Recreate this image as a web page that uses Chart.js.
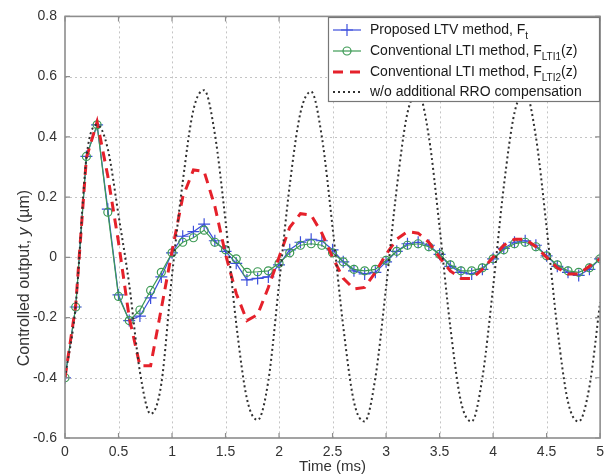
<!DOCTYPE html>
<html><head><meta charset="utf-8">
<script src="https://cdn.jsdelivr.net/npm/chart.js@4/dist/chart.umd.min.js"></script>
<style>html,body{margin:0;padding:0;background:#fff}#wrap{width:610px;height:476px;position:relative}</style>
</head><body><div id="wrap"><canvas id="c" width="610" height="476"></canvas></div>
<script>
// ---- data (time in ms, output in µm) ----
const timeMs = [0,0.1,0.2,0.3,0.4,0.5,0.6,0.7,0.8,0.9,1.0,1.1,1.2,1.3,1.4,1.5,1.6,1.7,1.8,1.9,2.0,2.1,2.2,2.3,2.4,2.5,2.6,2.7,2.8,2.9,3.0,3.1,3.2,3.3,3.4,3.5,3.6,3.7,3.8,3.9,4.0,4.1,4.2,4.3,4.4,4.5,4.6,4.7,4.8,4.9,5.0];
const proposedLTV = [-0.40,-0.165,0.335,0.44,0.16,-0.125,-0.21,-0.195,-0.135,-0.065,0.015,
  0.07,0.085,0.11,0.055,0.02,-0.02,-0.075,-0.07,-0.065,-0.025,
  0.025,0.05,0.06,0.055,0.025,-0.015,-0.045,-0.055,-0.05,-0.015,
  0.02,0.045,0.05,0.04,0.01,-0.03,-0.05,-0.055,-0.04,-0.005,
  0.03,0.05,0.055,0.04,0.005,-0.03,-0.05,-0.06,-0.04,-0.005];
const conventionalLTI1 = [-0.40,-0.165,0.335,0.44,0.15,-0.13,-0.21,-0.175,-0.11,-0.05,0.015,
  0.05,0.065,0.09,0.05,0.025,-0.005,-0.05,-0.048,-0.045,-0.02,
  0.015,0.04,0.045,0.04,0.015,-0.015,-0.04,-0.045,-0.04,-0.01,
  0.02,0.04,0.045,0.035,0.01,-0.025,-0.045,-0.045,-0.035,-0.005,
  0.025,0.045,0.05,0.035,0.005,-0.025,-0.045,-0.05,-0.035,-0.005];
const conventionalLTI2 = [-0.40,-0.16,0.33,0.45,0.27,0.05,-0.20,-0.36,-0.36,-0.17,0.02,
  0.20,0.29,0.285,0.17,0.01,-0.12,-0.21,-0.19,-0.10,0.0,
  0.10,0.145,0.14,0.08,0.0,-0.07,-0.105,-0.10,-0.05,0.01,
  0.06,0.085,0.08,0.05,0.0,-0.045,-0.07,-0.07,-0.04,0.0,
  0.04,0.06,0.06,0.035,0.0,-0.035,-0.055,-0.055,-0.03,-0.005];
const withoutRRO = [-0.40,-0.16,0.33,0.44,0.36,0.14,-0.09,-0.38,-0.52,-0.42,-0.06,
  0.25,0.49,0.555,0.41,0.12,-0.22,-0.47,-0.54,-0.41,-0.09,
  0.24,0.48,0.55,0.40,0.10,-0.23,-0.48,-0.545,-0.40,-0.10,
  0.23,0.48,0.545,0.40,0.10,-0.23,-0.48,-0.545,-0.40,-0.10,
  0.235,0.48,0.55,0.40,0.10,-0.235,-0.48,-0.545,-0.43,-0.15];
const xTicks = [0,0.5,1,1.5,2,2.5,3,3.5,4,4.5,5];
const yTicks = [-0.6,-0.4,-0.2,0,0.2,0.4,0.6,0.8];
const legendMain = ['Proposed LTV method, F','Conventional LTI method, F','Conventional LTI method, F','w/o additional RRO compensation'];
const legendSub = ['t','LTI1','LTI2',''];
const legendTail = ['','(z)','(z)',''];
const xTitle = 'Time (ms)';
const yTitleParts = ['Controlled output, ','y',' (µm)'];

const pts = arr => arr.map((v,i)=>({x:timeMs[i], y:v}));
const FONT = '"Liberation Sans", Arial, sans-serif';
const C_BLUE = '#3c4fdc', C_GREEN = '#3d9a55', C_RED = '#e5212b', C_DOT = '#303030';

const framePlugin = {
  id:'frame',
  beforeDatasetsDraw(chart){
    const {ctx, chartArea:a, scales:{x,y}} = chart;
    ctx.save();
    ctx.strokeStyle = '#c4c4c4'; ctx.lineWidth = 1; ctx.setLineDash([2,3]);
    xTicks.forEach(t=>{ if(t>0 && t<5){ const px=Math.round(x.getPixelForValue(t))+0.5; ctx.beginPath(); ctx.moveTo(px,a.top); ctx.lineTo(px,a.bottom); ctx.stroke(); }});
    yTicks.forEach(t=>{ if(t>-0.6 && t<0.8){ const py=Math.round(y.getPixelForValue(t))+0.5; ctx.beginPath(); ctx.moveTo(a.left,py); ctx.lineTo(a.right,py); ctx.stroke(); }});
    ctx.restore();
  },
  afterDatasetsDraw(chart){
    const {ctx, chartArea:a, scales:{x,y}} = chart;
    ctx.save();
    // axes box
    ctx.strokeStyle = '#8d8d8d'; ctx.lineWidth = 1.6; ctx.setLineDash([]);
    ctx.strokeRect(a.left, a.top, a.right-a.left, a.bottom-a.top);
    // inward ticks
    ctx.lineWidth = 1.2;
    xTicks.forEach(t=>{ const px=x.getPixelForValue(t); ctx.beginPath(); ctx.moveTo(px,a.bottom); ctx.lineTo(px,a.bottom-5); ctx.moveTo(px,a.top); ctx.lineTo(px,a.top+5); ctx.stroke(); });
    yTicks.forEach(t=>{ const py=y.getPixelForValue(t); ctx.beginPath(); ctx.moveTo(a.left,py); ctx.lineTo(a.left+5,py); ctx.moveTo(a.right,py); ctx.lineTo(a.right-5,py); ctx.stroke(); });
    // legend
    const bx = 328, by = 17, bw = 271, bh = 84;
    ctx.fillStyle = '#fff'; ctx.fillRect(bx,by,bw,bh);
    ctx.strokeStyle = '#777'; ctx.lineWidth = 1.2; ctx.strokeRect(bx+0.5,by+0.5,bw,bh);
    const rows = [30,51,72,92];
    const ds = chart.data.datasets;
    rows.forEach((ry,i)=>{
      const d = ds[i];
      ctx.save();
      ctx.strokeStyle = d.borderColor; ctx.lineWidth = d.borderWidth;
      ctx.setLineDash(d.borderDash || []);
      ctx.beginPath(); ctx.moveTo(333,ry); ctx.lineTo(361,ry); ctx.stroke();
      ctx.setLineDash([]);
      if(d.pointStyle==='cross'){ ctx.lineWidth=1.2; ctx.beginPath(); ctx.moveTo(347,ry-6); ctx.lineTo(347,ry+6); ctx.moveTo(341,ry); ctx.lineTo(353,ry); ctx.stroke(); }
      if(d.pointStyle==='circle' && d.pointRadius>0){ ctx.lineWidth=1.2; ctx.beginPath(); ctx.arc(347,ry,4,0,Math.PI*2); ctx.stroke(); }
      ctx.restore();
      ctx.fillStyle = '#1a1a1a'; ctx.textBaseline = 'middle'; ctx.textAlign='left';
      ctx.font = '14px '+FONT;
      let tx = 370;
      ctx.fillText(legendMain[i], tx, ry); tx += ctx.measureText(legendMain[i]).width;
      if(legendSub[i]){ ctx.font='10px '+FONT; ctx.fillText(legendSub[i], tx, ry+6); tx += ctx.measureText(legendSub[i]).width; }
      if(legendTail[i]){ ctx.font='14px '+FONT; ctx.fillText(legendTail[i], tx, ry); }
    });
    // axis titles
    ctx.fillStyle = '#333'; ctx.font = '15px '+FONT; ctx.textAlign='center'; ctx.textBaseline='middle';
    ctx.fillText(xTitle, (a.left+a.right)/2, 467);
    ctx.translate(25, 278); ctx.rotate(-Math.PI/2);
    const fN = '16px '+FONT, fI = 'italic 16px '+FONT;
    ctx.font=fN; const w0=ctx.measureText(yTitleParts[0]).width, w2=ctx.measureText(yTitleParts[2]).width;
    ctx.font=fI; const w1=ctx.measureText(yTitleParts[1]).width;
    let sx = -(w0+w1+w2)/2; ctx.textAlign='left';
    ctx.font=fN; ctx.fillText(yTitleParts[0], sx, 0); sx+=w0;
    ctx.font=fI; ctx.fillText(yTitleParts[1], sx, 0); sx+=w1;
    ctx.font=fN; ctx.fillText(yTitleParts[2], sx, 0);
    ctx.restore();
  }
};

new Chart(document.getElementById('c'), {
  type:'line',
  data:{ datasets:[
    {label:'Proposed LTV method, Ft', data:pts(proposedLTV), borderColor:C_BLUE, backgroundColor:C_BLUE, borderWidth:1.2,
     pointStyle:'cross', pointRadius:6, pointBorderWidth:1.2, pointBorderColor:C_BLUE, order:4},
    {label:'Conventional LTI method, FLTI1(z)', data:pts(conventionalLTI1), borderColor:C_GREEN, backgroundColor:'rgba(0,0,0,0)', borderWidth:1.2,
     pointStyle:'circle', pointRadius:4, pointBorderWidth:1.2, pointBorderColor:C_GREEN, pointBackgroundColor:'rgba(0,0,0,0)', order:3},
    {label:'Conventional LTI method, FLTI2(z)', data:pts(conventionalLTI2), borderColor:C_RED, borderWidth:3, borderDash:[10,7],
     pointRadius:0, order:2},
    {label:'w/o additional RRO compensation', data:pts(withoutRRO), borderColor:C_DOT, borderWidth:2, borderDash:[2,3],
     pointRadius:0, cubicInterpolationMode:'monotone', order:1}
  ]},
  options:{
    responsive:false, animation:false, devicePixelRatio:1,
    layout:{padding:{top:14,right:9,left:0,bottom:0}},
    plugins:{legend:{display:false}, tooltip:{enabled:false}},
    elements:{line:{tension:0}},
    scales:{
      x:{type:'linear', min:0, max:5,
        afterFit(s){ s.height = 38; },
        afterBuildTicks(s){ s.ticks = xTicks.map(v=>({value:v})); },
        ticks:{font:{size:14, family:FONT}, color:'#333', padding:6, maxRotation:0, autoSkip:false,
          callback:v=> Number.isInteger(v)? String(v) : v.toFixed(1)},
        grid:{display:false, drawTicks:false}, border:{display:false}},
      y:{type:'linear', min:-0.6, max:0.8,
        afterFit(s){ s.width = 65; },
        afterBuildTicks(s){ s.ticks = yTicks.map(v=>({value:v})); },
        ticks:{font:{size:14, family:FONT}, color:'#333', padding:8, autoSkip:false,
          callback:v=> Math.abs(v)<1e-9 ? '0' : v.toFixed(1)},
        grid:{display:false, drawTicks:false}, border:{display:false}}
    }
  },
  plugins:[framePlugin]
});
</script></body></html>
